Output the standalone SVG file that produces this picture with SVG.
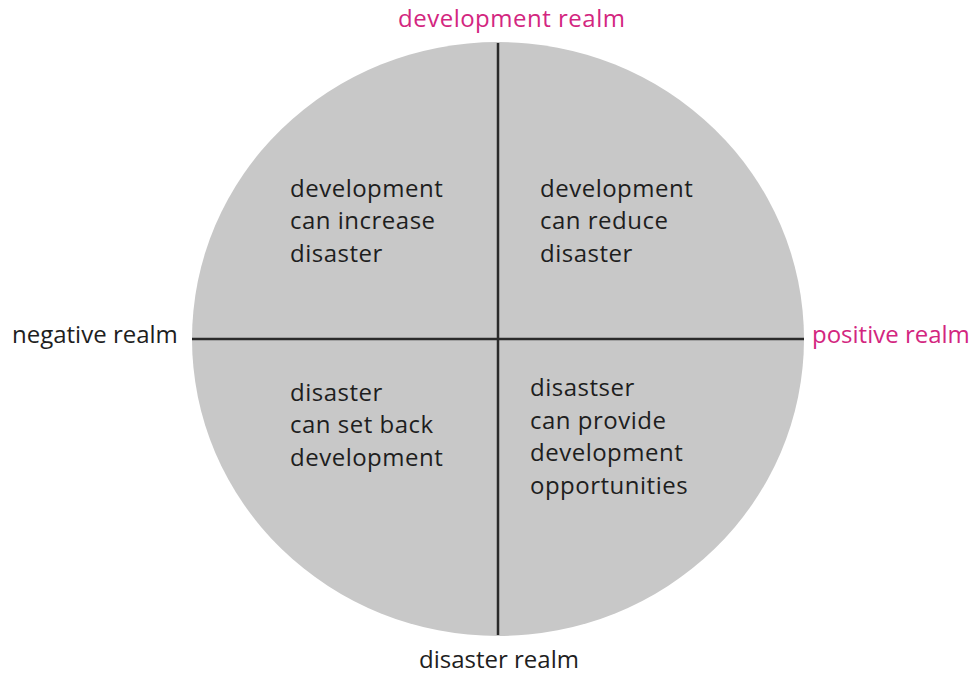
<svg xmlns="http://www.w3.org/2000/svg" width="974" height="677" viewBox="0 0 974 677">
<style>
text{font-family:"Open Sans","Noto Sans",sans-serif;font-size:24px;fill:#1e1e1e;letter-spacing:0.5px}
.pink{fill:#d3267f}
.axis{stroke:#2a2a2a;stroke-width:2.5;fill:none}
</style>
<rect width="974" height="677" fill="#fff"/>
<g id="circle"><ellipse cx="498" cy="339" rx="306" ry="297" fill="#c8c8c8"/></g>
<g id="connectors">
<line class="axis" x1="498" y1="43" x2="498" y2="635"/>
<line class="axis" x1="192" y1="339" x2="804" y2="339"/>
</g>
<g id="top-label"><text class="pink" x="398" y="27">development realm</text></g>
<g id="left-label"><text x="12" y="343" style="letter-spacing:0">negative realm</text></g>
<g id="right-label"><text class="pink" x="812" y="343" style="letter-spacing:0">positive realm</text></g>
<g id="bottom-label"><text x="419" y="668" style="letter-spacing:0">disaster realm</text></g>
<g id="q-top-left">
<text x="290" y="197">development</text>
<text x="290" y="229">can increase</text>
<text x="290" y="262">disaster</text>
</g>
<g id="q-top-right">
<text x="540" y="197">development</text>
<text x="540" y="229">can reduce</text>
<text x="540" y="262">disaster</text>
</g>
<g id="q-bottom-left">
<text x="290" y="401">disaster</text>
<text x="290" y="433">can set back</text>
<text x="290" y="466">development</text>
</g>
<g id="q-bottom-right">
<text x="530" y="396">disastser</text>
<text x="530" y="429">can provide</text>
<text x="530" y="461">development</text>
<text x="530" y="494">opportunities</text>
</g>
</svg>
